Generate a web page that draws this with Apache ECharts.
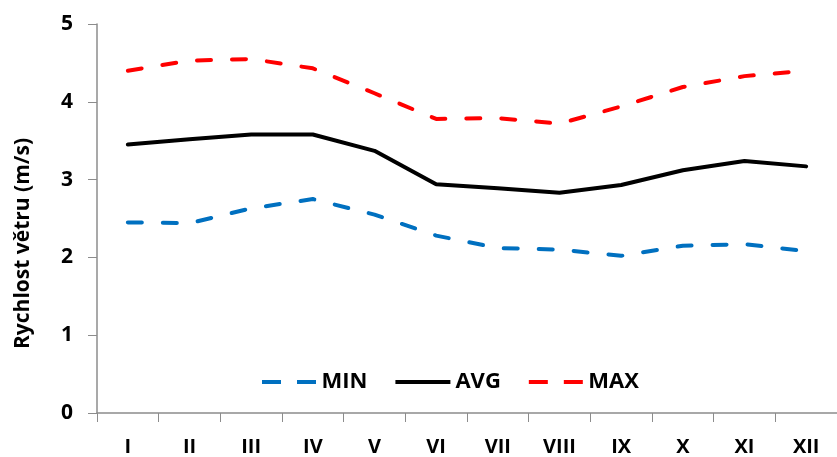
<!DOCTYPE html>
<html>
<head>
    <meta charset="UTF-8">
    <title>Rychlost větru</title>
    <script src="https://cdn.jsdelivr.net/npm/echarts@6/dist/echarts.min.js"></script>
    <style>
        html, body { margin: 0; padding: 0; background: #fff; }
        #chart { width: 837px; height: 457px; }
    </style>
</head>
<body>
<div id="chart"></div>
<script type="text/javascript">
    var months = ['I', 'II', 'III', 'IV', 'V', 'VI', 'VII', 'VIII', 'IX', 'X', 'XI', 'XII'];
    var minVals = [2.45, 2.44, 2.63, 2.75, 2.55, 2.28, 2.12, 2.10, 2.02, 2.15, 2.17, 2.08];
    var avgVals = [3.45, 3.52, 3.58, 3.58, 3.37, 2.94, 2.89, 2.83, 2.93, 3.12, 3.24, 3.17];
    var maxVals = [4.40, 4.53, 4.55, 4.43, 4.11, 3.78, 3.79, 3.72, 3.94, 4.19, 4.33, 4.40];

    var font = '"Open Sans", "Liberation Sans", Arial, sans-serif';
    var axisGray = '#8c8c8c';

    // legend icons: two dashes / one solid bar
    var dashIcon = 'path://M0,0h19v4h-19z M35,0h19v4h-19z';
    var solidIcon = 'path://M0,0h56v4h-56z';

    var myChart = echarts.init(document.getElementById('chart'));

    function lineSeries(name, data, color, dashed) {
        return {
            name: name,
            type: 'line',
            data: data,
            symbol: 'none',
            smooth: false,
            lineStyle: {
                color: color,
                width: 4,
                type: dashed ? [14, 21] : 'solid',
                cap: 'round'
            },
            itemStyle: { color: color }
        };
    }

    var option = {
        animation: false,
        textStyle: { fontFamily: font },
        grid: { left: 97, right: -4, top: 24, bottom: 44, containLabel: false },
        legend: {
            top: 366,
            left: 257,
            itemWidth: 55,
            itemHeight: 4,
            itemGap: 28,
            textStyle: { fontSize: 22, fontWeight: 'bold', color: '#000', fontFamily: font },
            data: [
                { name: 'MIN', icon: dashIcon },
                { name: 'AVG', icon: solidIcon },
                { name: 'MAX', icon: dashIcon }
            ]
        },
        xAxis: {
            type: 'category',
            data: months,
            boundaryGap: true,
            axisLine: { lineStyle: { color: axisGray, width: 1.5 } },
            axisTick: { show: true, length: 9, inside: false, lineStyle: { color: axisGray } },
            axisLabel: { color: '#000', fontSize: 20, fontWeight: 'bold', margin: 24 }
        },
        yAxis: {
            type: 'value',
            min: 0,
            max: 5,
            interval: 1,
            name: 'Rychlost větru (m/s)',
            nameLocation: 'middle',
            nameGap: 63,
            nameTextStyle: { color: '#000', fontSize: 21, fontWeight: 'bold', padding: [0, 50, 0, 0] },
            axisLine: { show: true, lineStyle: { color: axisGray, width: 1.5 } },
            axisTick: { show: true, length: 9, lineStyle: { color: axisGray } },
            splitLine: { show: false },
            axisLabel: { color: '#000', fontSize: 21, fontWeight: 'bold', margin: 24 }
        },
        series: [
            lineSeries('MIN', minVals, '#0070c0', true),
            lineSeries('AVG', avgVals, '#000000', false),
            lineSeries('MAX', maxVals, '#ff0000', true)
        ]
    };
    myChart.setOption(option);
</script>
</body>
</html>
